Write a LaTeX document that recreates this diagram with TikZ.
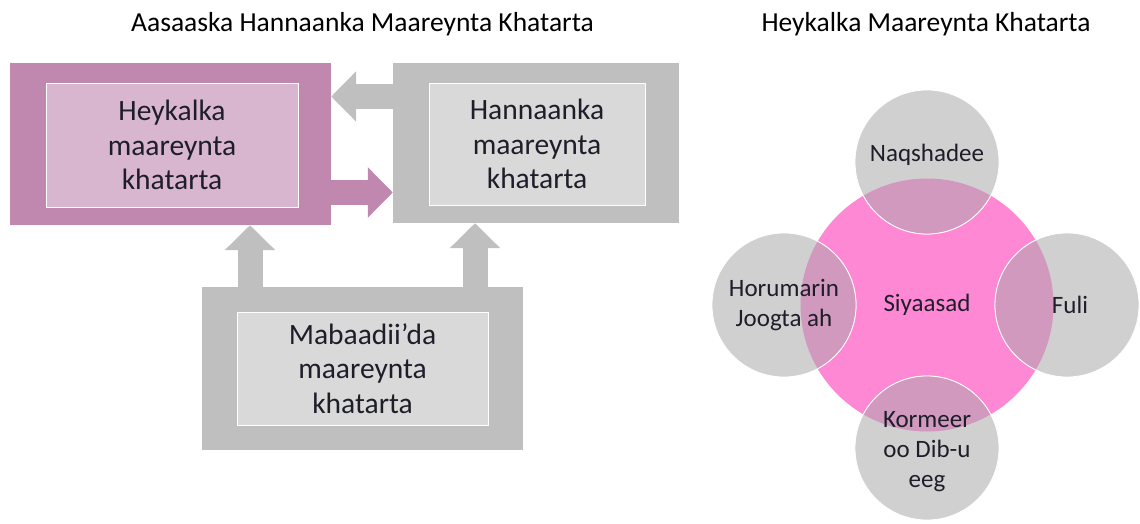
\documentclass[tikz,border=0pt]{standalone}
\usepackage{fontspec}
\setmainfont{Carlito}
\usetikzlibrary{arrows.meta}
\definecolor{plumout}{HTML}{C088AF}
\definecolor{plumin}{HTML}{D9B6CF}
\definecolor{greyout}{HTML}{BFBFBF}
\definecolor{greyin}{HTML}{D9D9D9}
\definecolor{pinkmid}{HTML}{FF88D4}
\definecolor{greycirc}{HTML}{D0D0D0}
\definecolor{lens}{HTML}{D099BD}
\definecolor{ink}{HTML}{1E1E2A}
\tikzset{
  outerbox/.style={inner sep=0pt, fill=#1},
  innerbox/.style={inner sep=0pt, fill=#1, draw=white, line width=0.8pt,
    align=center, text=ink, font=\fontsize{29.5}{34.5}\selectfont},
  blockarrow/.style={draw=#1, line width=25pt,
    -{Triangle[length=25pt,width=49pt]}},
  ring/.style={circle, inner sep=0pt, minimum size=144pt, fill=greycirc,
    draw=white, line width=0.8pt},
  circtext/.style={align=center, text=ink, font=\fontsize{25}{30}\selectfont},
  heading/.style={anchor=base, font=\fontsize{27.5}{33}\selectfont}
}
\begin{document}
\begin{tikzpicture}[x=1pt,y=-1pt]
\useasboundingbox (0,0) rectangle (1140,524);
% titles
\node[heading] (titleL) at (362.5,32) {Aasaaska Hannaanka Maareynta Khatarta};
\node[heading] (titleR) at (926,32) {Heykalka Maareynta Khatarta};
% left diagram
\node[outerbox=plumout, minimum width=321pt, minimum height=162pt] (heykal) at (170.5,144) {};
\node[innerbox=plumin, minimum width=252pt, minimum height=124pt] (heykalIn) at (172,145) {Heykalka\\maareynta\\khatarta};
\node[outerbox=greyout, minimum width=286pt, minimum height=160pt] (hanna) at (536,143) {};
\node[innerbox=greyin, minimum width=216pt, minimum height=122pt] (hannaIn) at (537,144) {Hannaanka\\maareynta\\khatarta};
\node[outerbox=greyout, minimum width=321pt, minimum height=163pt] (mabaadi) at (362.5,368.5) {};
\node[innerbox=greyin, minimum width=251pt, minimum height=113pt] (mabaadiIn) at (362.5,368.5) {Mabaadii’da\\maareynta\\khatarta};
\draw[blockarrow=greyout] ([yshift=46.5pt]hanna.west) -- ([yshift=47.5pt]heykal.east);
\draw[blockarrow=plumout] ([yshift=-48.5pt]heykal.east) -- ([yshift=-49.5pt]hanna.west);
\draw[blockarrow=greyout] ([xshift=-112.5pt]mabaadi.north) -- ([xshift=79.5pt]heykal.south);
\draw[blockarrow=greyout] ([xshift=112.5pt]mabaadi.north) -- ([xshift=-61pt]hanna.south);
% right diagram
\node[circle, inner sep=0pt, minimum size=253pt, fill=pinkmid] (siyaasad) at (927,305) {};
\node[ring] (naqsh) at (927,162) {};
\node[ring] (horum) at (784,305) {};
\node[ring] (fuli) at (1067,305) {};
\node[ring] (kormeer) at (927,448) {};
\begin{scope}
\clip (siyaasad.center) circle[radius=126.5pt];
\foreach \c in {naqsh,horum,fuli,kormeer}
  \fill[lens, draw=white, line width=0.8pt] (\c.center) circle[radius=72pt];
\end{scope}
\node[circtext] (siyaasadT) at (siyaasad) {Siyaasad};
\node[circtext] (naqshT) at (927,155) {Naqshadee};
\node[circtext] (horumT) at (784,305) {Horumarin\\Joogta ah};
\node[circtext] (fuliT) at (1070,305) {Fuli};
\node[circtext] (kormeerT) at (927,452) {Kormeer\\oo Dib-u\\eeg};
\end{tikzpicture}
\end{document}
